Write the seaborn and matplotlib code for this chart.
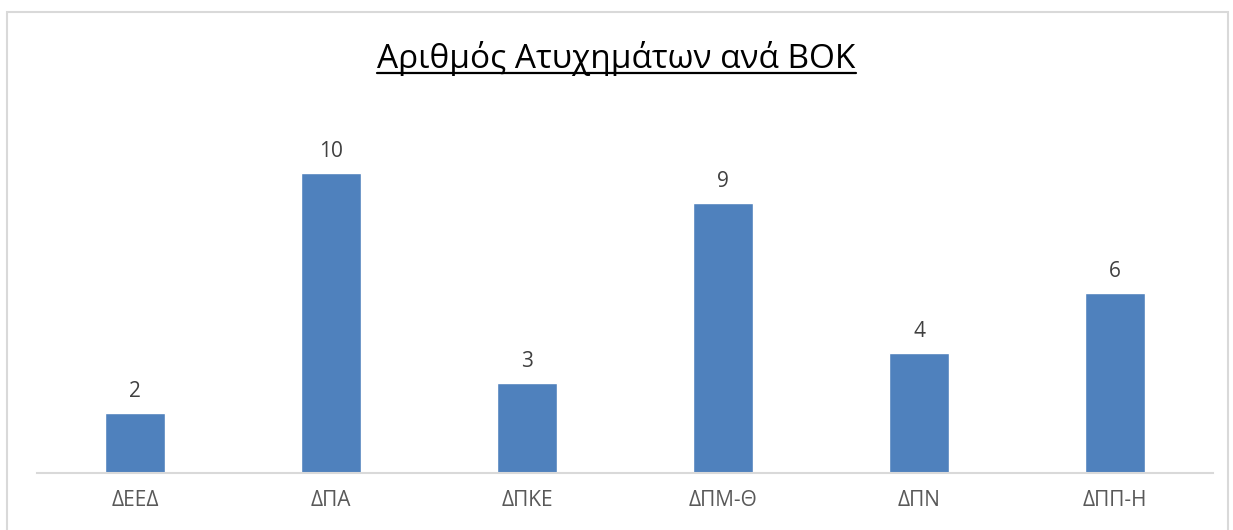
import pandas as pd
import seaborn as sns
import matplotlib.pyplot as plt
from matplotlib.patches import Rectangle
from matplotlib.lines import Line2D

# Data
categories = ['ΔΕΕΔ', 'ΔΠΑ', 'ΔΠΚΕ', 'ΔΠΜ-Θ', 'ΔΠΝ', 'ΔΠΠ-Η']
accidents = [2, 10, 3, 9, 4, 6]
title_text = 'Αριθμός Ατυχημάτων ανά ΒΟΚ'

df = pd.DataFrame({'ΒΟΚ': categories, 'Ατυχήματα': accidents})

sns.set_style('white')
plt.rcParams['font.family'] = ['Open Sans', 'DejaVu Sans']

W, H = 1233, 530
fig = plt.figure(figsize=(W / 100, H / 100), dpi=100)
ax = fig.add_axes([37 / W, 1 - 473 / H, (1213 - 37) / W, (473 - 113) / H])

sns.barplot(data=df, x='ΒΟΚ', y='Ατυχήματα', color='#4F81BD', width=0.31,
            saturation=1, ax=ax)
ax.set_ylim(0, 12)
ax.set_xlim(-0.5, len(categories) - 0.5)

for i, v in enumerate(accidents):
    ax.annotate(str(v), (i, v), xytext=(0, 8), textcoords='offset points',
                ha='center', va='bottom', fontsize=15, color='#404040')

ax.set_xlabel('')
ax.set_ylabel('')
ax.set_yticks([])
ax.tick_params(axis='x', length=0, pad=12, labelsize=15, labelcolor='#595959')
for s in ['top', 'right', 'left']:
    ax.spines[s].set_visible(False)
ax.spines['bottom'].set_color('#D9D9D9')
ax.spines['bottom'].set_linewidth(1.5)

# chart border
fig.patches.append(Rectangle((7 / W, -0.05), (1228 - 7) / W, 1 - 12 / H + 0.05,
                             transform=fig.transFigure, fill=False,
                             edgecolor='#D9D9D9', linewidth=1.5))

# underlined title
t = fig.text(0.5, 1 - 58 / H, title_text, ha='center', va='center',
             fontsize=24, color='black')
fig.canvas.draw()
bb = t.get_window_extent(fig.canvas.get_renderer())
uy = (bb.y0 + 3) / H
fig.lines.append(Line2D([bb.x0 / W, bb.x1 / W], [uy, uy], transform=fig.transFigure,
                        color='black', linewidth=1.6))

fig.savefig('out.png', dpi=100)
